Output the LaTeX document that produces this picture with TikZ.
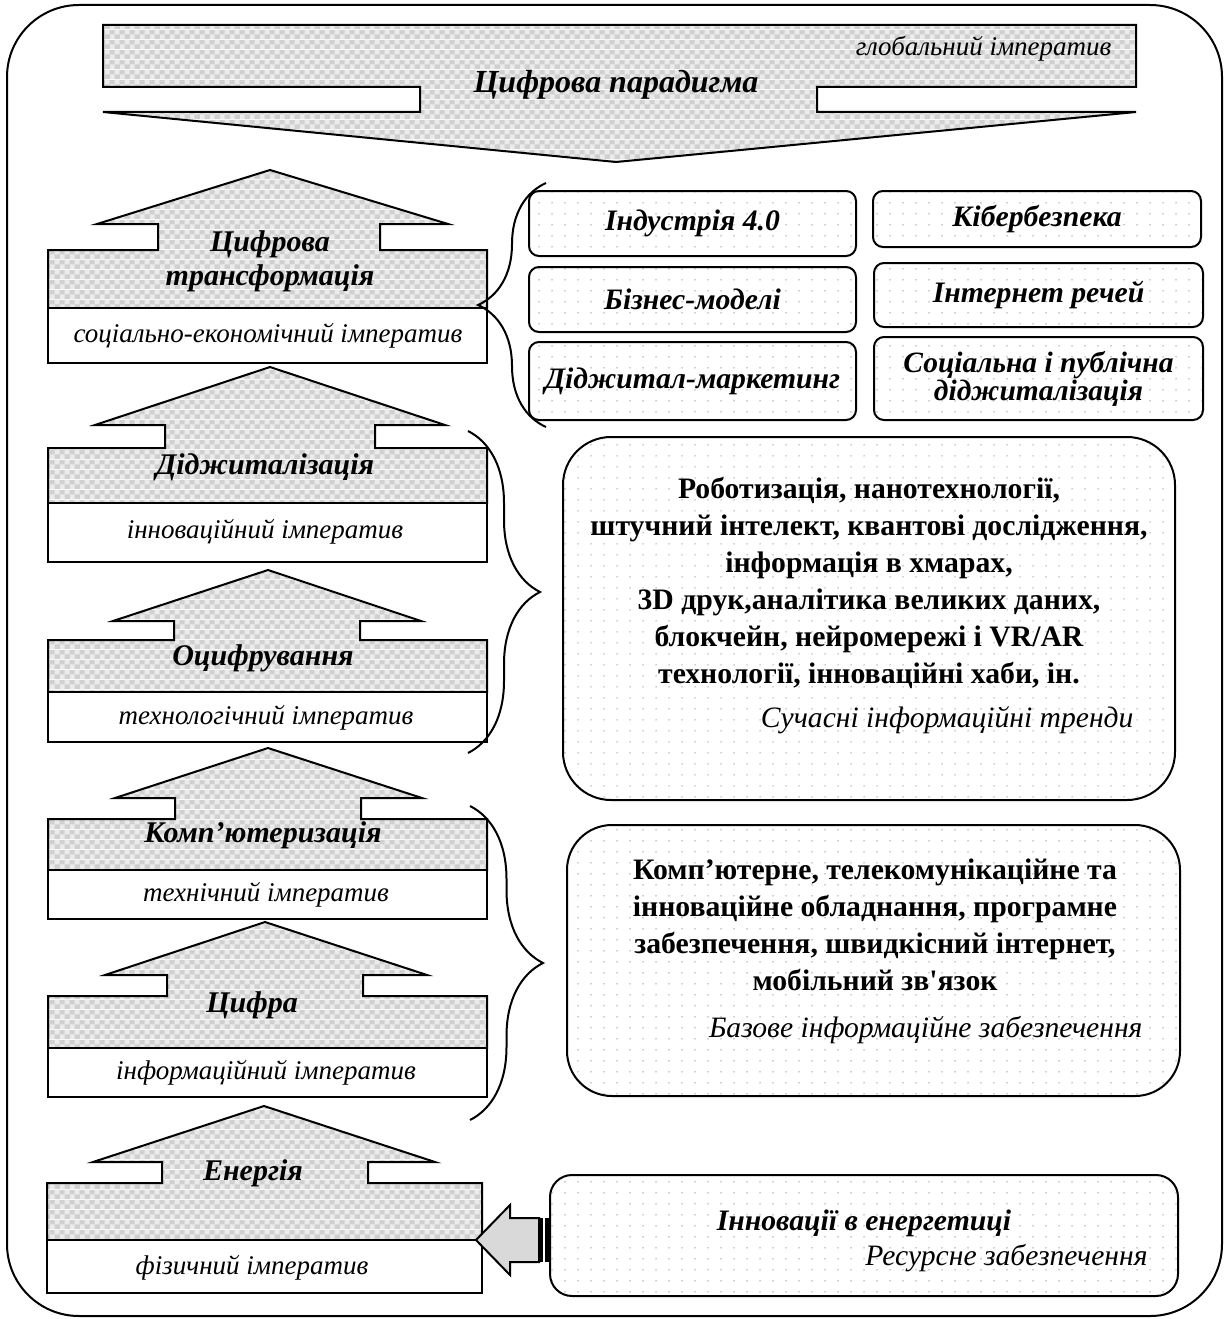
\documentclass[tikz,border=0pt]{standalone}
\usepackage{fontspec}
\setmainfont{Liberation Serif}
\newfontfamily\rawserif{Liberation Serif}
\usetikzlibrary{patterns,decorations.pathreplacing,calc}
\definecolor{cA}{HTML}{D0D0D0}
\definecolor{cB}{HTML}{EBEBEB}
\definecolor{dotc}{HTML}{9A9A9A}
\definecolor{arrf}{HTML}{D9D9D9}
\pgfdeclarepatterninherentlycolored{gchecker}{\pgfpointorigin}{\pgfqpoint{10pt}{10pt}}{\pgfqpoint{10pt}{10pt}}{%
  \pgfsetfillcolor{cA}\pgfpathrectangle{\pgfpointorigin}{\pgfqpoint{10pt}{10pt}}\pgfusepath{fill}%
  \pgfsetfillcolor{cB}\pgfpathrectangle{\pgfpointorigin}{\pgfqpoint{5pt}{5pt}}%
  \pgfpathrectangle{\pgfqpoint{5pt}{5pt}}{\pgfqpoint{5pt}{5pt}}\pgfusepath{fill}}
\pgfdeclarepatterninherentlycolored{sdots}{\pgfpointorigin}{\pgfqpoint{13pt}{11pt}}{\pgfqpoint{13pt}{11pt}}{%
  \pgfsetfillcolor{dotc}\pgfpathcircle{\pgfqpoint{6.5pt}{5.5pt}}{0.8pt}\pgfusepath{fill}}
\tikzset{
  shp/.style={draw=black, line width=2pt, pattern=gchecker},
  lbox/.style={draw, line width=2pt, fill=white, inner sep=0pt},
  rbox/.style={draw, line width=2pt, rounded corners=#1, pattern=sdots, inner sep=0pt},
  ttl/.style={font=\fontsize{30}{34}\selectfont\bfseries\itshape, align=center},
  imp/.style={font=\fontsize{27}{30}\selectfont\itshape},
  gtxt/.style={font=\fontsize{29.7}{30}\selectfont\bfseries\itshape, align=center},
  btxt/.style={font=\rawserif\fontsize{29.7}{37}\selectfont\bfseries, align=center},
  itxt/.style={font=\fontsize{29.6}{30}\selectfont\itshape},
  brc/.style={decorate, decoration={brace, amplitude=#1}, line width=2pt},
}
\def\rl{48}\def\rr{487}
\newcommand\myuparrow[9]{%
  \draw[shp] (#1,#2) -- (#5,#3) -- (#7,#3) -- (#7,#8) -- (\rr,#8) -- (\rr,#9)
    -- (\rl,#9) -- (\rl,#8) -- (#6,#8) -- (#6,#3) -- (#4,#3) -- cycle;}
\begin{document}
\begin{tikzpicture}[x=1pt,y=-1pt,line join=miter]
\useasboundingbox (0,0) rectangle (1225,1319);
% outer frame
\draw[line width=2pt, rounded corners=72pt] (7,5) rectangle (1222,1316);

% top banner
\draw[shp] (103,25) -- (1136,25) -- (1136,87) -- (817,87) -- (817,112) -- (1136,112)
  -- (616,162) -- (103,112) -- (420,112) -- (420,87) -- (103,87) -- cycle;
\node[font=\fontsize{32}{34}\selectfont\bfseries\itshape] (par) at (616,85) {Цифрова парадигма};
\node[imp, anchor=east] (glob) at (1115,49) {глобальний імператив};

% arrows
\myuparrow{270}{170}{224}{97}{448}{158}{380}{250}{308}
\node[lbox, minimum width=439pt, minimum height=55pt] (i1) at (267.5,335.5) {};
\node[imp] (i1t) at (268,336) {соціально-економічний імператив};
\node[ttl] (t1) at (270,261) {Цифрова\\трансформація};

\myuparrow{270}{367}{425}{95}{445}{165}{375}{448}{503}
\node[lbox, minimum width=439pt, minimum height=59pt] (i2) at (267.5,532.5) {};
\node[imp] (i2t) at (265,532) {інноваційний імператив};
\node[ttl] (t2) at (265,467) {Діджиталізація};

\myuparrow{268}{570}{621}{113}{421}{174}{360}{640}{692}
\node[lbox, minimum width=439pt, minimum height=50pt] (i3) at (267.5,717) {};
\node[imp] (i3t) at (266,718) {технологічний імператив};
\node[ttl] (t3) at (263,658) {Оцифрування};

\myuparrow{268}{748}{798}{115}{422}{175}{361}{819}{870}
\node[lbox, minimum width=439pt, minimum height=49pt] (i4) at (267.5,894.5) {};
\node[imp] (i4t) at (266,895) {технічний імператив};
\node[ttl] (t4) at (263,835) {Комп’ютеризація};

\myuparrow{265}{922}{975}{105}{427}{167}{363}{996}{1048}
\node[lbox, minimum width=439pt, minimum height=49pt] (i5) at (267.5,1072.5) {};
\node[imp] (i5t) at (266,1073) {інформаційний імператив};
\node[ttl] (t5) at (252,1005) {Цифра};

\def\rl{47}\def\rr{482}
\myuparrow{264}{1106}{1162}{93}{435}{162}{368}{1183}{1240}
\node[lbox, minimum width=435pt, minimum height=53pt] (i6) at (264.5,1266.5) {};
\node[imp] (i6t) at (252,1268) {фізичний імператив};
\node[ttl] (t6) at (253,1173) {Енергія};

% grid boxes
\node[rbox=10pt, minimum width=327pt, minimum height=65pt] (ind) at (692.5,223.5) {};
\node[gtxt] at (ind) {Індустрія 4.0};
\node[rbox=10pt, minimum width=328pt, minimum height=56pt] (kib) at (1037,219) {};
\node[gtxt] at (kib) {Кібербезпека};
\node[rbox=10pt, minimum width=327pt, minimum height=65pt] (biz) at (692.5,299.5) {};
\node[gtxt] at (biz) {Бізнес-моделі};
\node[rbox=10pt, minimum width=329pt, minimum height=64pt] (iot) at (1038.5,295) {};
\node[gtxt] at (iot) {Інтернет речей};
\node[rbox=10pt, minimum width=327pt, minimum height=78pt] (dm) at (692.5,381) {};
\node[gtxt] at (dm) {Діджитал-маркетинг};
\node[rbox=10pt, minimum width=329pt, minimum height=83pt] (soc) at (1038.5,378.5) {};
\node[gtxt, font=\fontsize{29.5}{25}\selectfont\bfseries\itshape] at (soc) {Соціальна і публічна\\діджиталізація};

% trends box
\node[rbox=48pt, minimum width=612pt, minimum height=363pt] (trend) at (869,618.5) {};
\node[btxt] (trendt) at (869,583) {Роботизація, нанотехнології,\\штучний інтелект, квантові дослідження,\\інформація в хмарах,\\3D друк,аналітика великих даних,\\блокчейн, нейромережі і VR/AR\\технології, інноваційні хаби, ін.};
\node[itxt, anchor=east] (trendc) at (1137,720) {Сучасні інформаційні тренди};

% base box
\node[rbox=45pt, minimum width=613pt, minimum height=271pt] (base) at (873.5,960.5) {};
\node[btxt] (baset) at (875,925) {Комп’ютерне, телекомунікаційне та\\інноваційне обладнання, програмне\\забезпечення, швидкісний інтернет,\\мобільний зв'язок};
\node[itxt, anchor=east] (basec) at (1146,1030) {Базове інформаційне забезпечення};

% energy box
\node[rbox=22pt, minimum width=628pt, minimum height=121pt] (en) at (864,1235.5) {};
\node[gtxt] (ent) at (864,1223) {Інновації в енергетиці};
\node[itxt, anchor=east] (enc) at (1151,1258) {Ресурсне забезпечення};

% braces
\coordinate (b1a) at (546,427); \coordinate (b1b) at (546,183);
\draw[brc=68pt] (b1a) -- (b1b);
\coordinate (b2a) at (468,431); \coordinate (b2b) at (468,753);
\draw[brc=72pt] (b2a) -- (b2b);
\coordinate (b3a) at (470,806); \coordinate (b3b) at (470,1120);
\draw[brc=73pt] (b3a) -- (b3b);

% block arrow from energy box
\coordinate (entail) at (en.west |- 0,1240);
\draw[line width=2pt, fill=arrf] ($(entail)+(-10,-22)$) -- ($(entail)+(-39,-22)$) -- ($(entail)+(-39,-35)$)
  -- ($(entail)+(-73,0)$) -- ($(entail)+(-39,35)$) -- ($(entail)+(-39,22)$) -- ($(entail)+(-10,22)$) -- cycle;
\fill ($(entail)+(-10,-22)$) rectangle ($(entail)+(-6,22)$);
\fill ($(entail)+(-4,-22)$) rectangle ($(entail)+(0,22)$);
\end{tikzpicture}
\end{document}
